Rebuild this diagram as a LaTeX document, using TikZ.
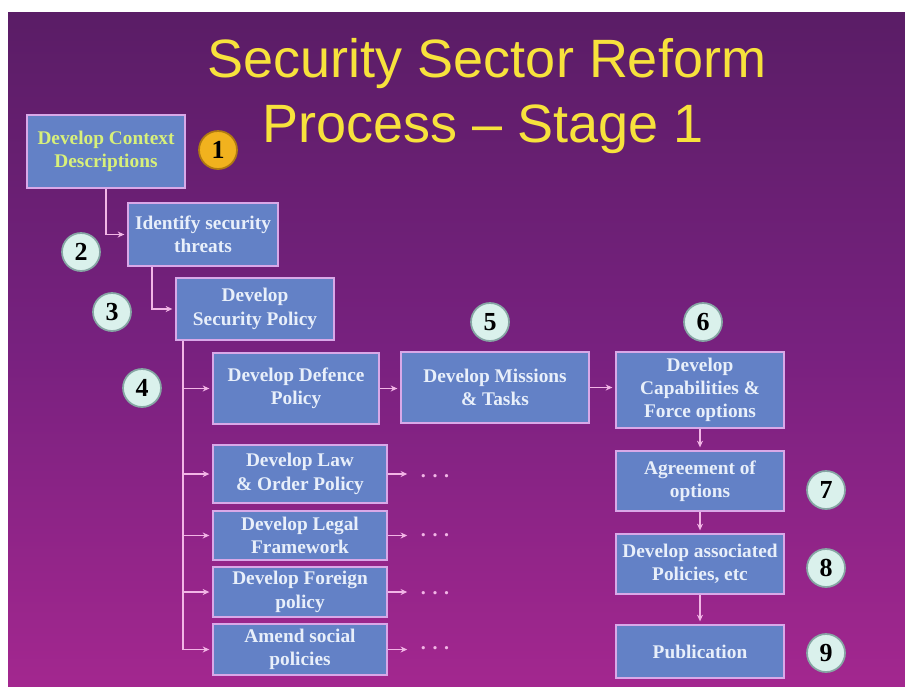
\documentclass[tikz,border=0pt]{standalone}
\usepackage{fontspec}
\setmainfont{Liberation Serif}
\newfontfamily\titlefont{Liberation Sans}
\usetikzlibrary{arrows.meta,calc}
\definecolor{bgtop}{HTML}{5A1D66}
\definecolor{bgmid}{HTML}{78217F}
\definecolor{bgbot}{HTML}{A3278F}
\definecolor{boxfill}{HTML}{6381C6}
\definecolor{boxline}{HTML}{D9A8E8}
\definecolor{boxtext}{HTML}{E8EFFA}
\definecolor{ctxtext}{HTML}{D8F07A}
\definecolor{connc}{HTML}{F2B6E6}
\definecolor{titlec}{HTML}{F7E23C}
\definecolor{badgefill}{HTML}{DAF1EC}
\definecolor{badgeline}{HTML}{86A6A4}
\definecolor{goldfill}{HTML}{F1B21E}
\definecolor{goldline}{HTML}{B07A10}
\begin{document}
\begin{tikzpicture}[x=0.75pt,y=-0.75pt,
  sz/.style 2 args={minimum width=#1*0.75pt, minimum height=#2*0.75pt},
  box/.style={draw=boxline, line width=1.5pt, fill=boxfill, text=boxtext, inner sep=0pt,
    align=center, font=\bfseries\fontsize{14.5}{17.5}\selectfont},
  badge/.style={circle, fill=badgefill, draw=badgeline, line width=1.3pt, minimum size=38*0.75pt,
    inner sep=0pt, font=\bfseries\fontsize{19.5}{19.5}\selectfont, text=black},
  goldbadge/.style={badge, fill=goldfill, draw=goldline},
  conn/.style={draw=connc, line width=1.2pt},
  arr/.style={conn, -{Stealth[length=5pt,width=4.5pt]}, shorten >=2pt},
  dotsn/.style={text=connc, inner sep=0pt, font=\bfseries\fontsize{15}{15}\selectfont},
  titlen/.style={text=titlec, inner sep=0pt, font=\titlefont\fontsize{40.5}{40.5}\selectfont}
]
\useasboundingbox (0,0) rectangle (905,686);
\fill[white] (0,0) rectangle (905,686);
\shade[top color=bgtop, bottom color=bgbot, middle color=bgmid] (8,12) rectangle (905,686);

% title
\node[titlen, anchor=base] (tl1) at (487,77) {Security Sector Reform};
\node[titlen, anchor=base] (tl2) at (483,142) {Process – Stage 1};

% boxes
\node[box, sz={158}{73}, text=ctxtext] (b1) at (106,151.5) {Develop Context\\Descriptions};
\node[box, sz={150}{63}] (b2) at (203,234.5) {Identify security\\threats};
\node[box, sz={158}{62}] (b3) at (255,309) {Develop\\Security Policy};
\node[box, sz={166}{71}] (def) at (296,388.5) {Develop Defence\\Policy};
\node[box, sz={188}{71}] (mis) at (495,387.5) {Develop Missions\\\& Tasks};
\node[box, sz={168}{76}] (cap) at (700,390) {Develop\\Capabilities \&\\Force options};
\node[box, sz={168}{60}] (agr) at (700,481) {Agreement of\\options};
\node[box, sz={168}{60}] (ass) at (700,564) {Develop associated\\Policies, etc};
\node[box, sz={168}{53}] (pub) at (700,651.5) {Publication};
\node[box, sz={174}{58}] (law) at (300,474) {Develop Law\\\& Order Policy};
\node[box, sz={174}{49}] (leg) at (300,535.5) {Develop Legal\\Framework};
\node[box, sz={174}{50}] (for) at (300,592) {Develop Foreign\\policy};
\node[box, sz={174}{51}] (ame) at (300,649.5) {Amend social\\policies};

% badges
\node[goldbadge] (n1) at (218,150) {1};
\node[badge] (n2) at (81,252) {2};
\node[badge] (n3) at (112,312) {3};
\node[badge] (n4) at (142,388) {4};
\node[badge] (n5) at (490,322) {5};
\node[badge] (n6) at (703,322) {6};
\node[badge] (n7) at (826,490) {7};
\node[badge] (n8) at (826,568) {8};
\node[badge] (n9) at (826,653) {9};

% dots
\node[dotsn] (d1) at (435,476) {.\,\,.\,\,.};
\node[dotsn] (d2) at (435,535) {.\,\,.\,\,.};
\node[dotsn] (d3) at (435,593) {.\,\,.\,\,.};
\node[dotsn] (d4) at (435,648) {.\,\,.\,\,.};

% connectors
\draw[arr] (b1.south) |- (b2.west);
\coordinate (c2) at ($(b2.south west)+(25,0)$);
\draw[arr] (c2) |- (b3.west);
\coordinate (t0) at ($(b3.south west)+(8,0)$);
\draw[conn] (t0) -- (t0 |- ame.west);
\draw[arr] (t0 |- def.west) -- (def.west);
\draw[arr] (t0 |- law.west) -- (law.west);
\draw[arr] (t0 |- leg.west) -- (leg.west);
\draw[arr] (t0 |- for.west) -- (for.west);
\draw[arr] (t0 |- ame.west) -- (ame.west);
\draw[arr] (def.east) -- (mis.west |- def.east);
\draw[arr] (mis.east) -- (cap.west |- mis.east);
\draw[arr] (cap.south) -- (agr.north);
\draw[arr] (agr.south) -- (ass.north);
\draw[arr] (ass.south) -- (pub.north);
\draw[arr, shorten >=10pt] (law.east) -- (law.east -| d1.west);
\draw[arr, shorten >=10pt] (leg.east) -- (leg.east -| d2.west);
\draw[arr, shorten >=10pt] (for.east) -- (for.east -| d3.west);
\draw[arr, shorten >=10pt] (ame.east) -- (ame.east -| d4.west);
\end{tikzpicture}
\end{document}
